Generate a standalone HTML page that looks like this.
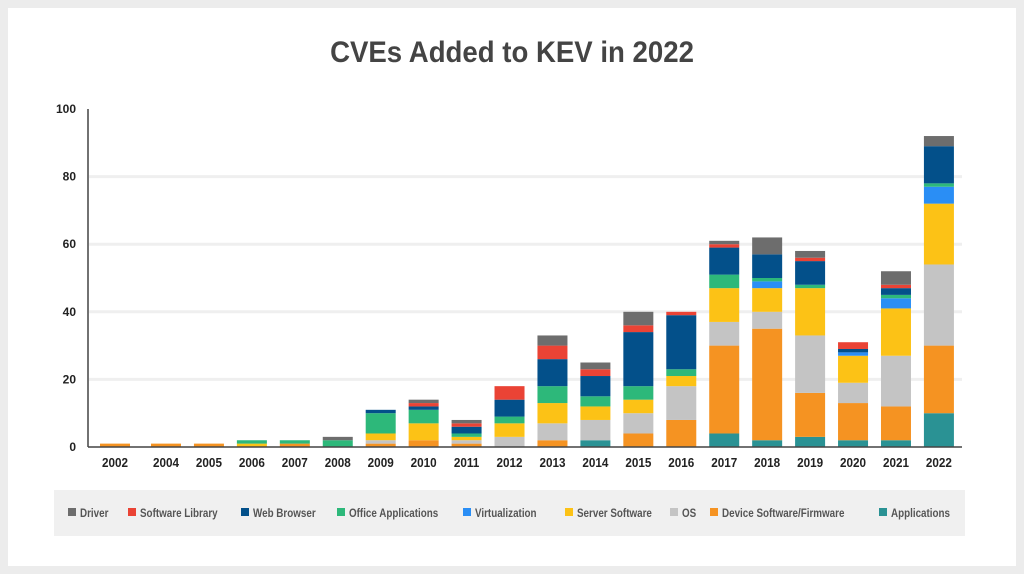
<!DOCTYPE html>
<html><head><meta charset="utf-8"><style>
body{margin:0;background:#ececec;}
#card{position:absolute;left:8px;top:8px;width:1008px;height:558px;background:#fff;}
svg{position:absolute;left:0;top:0;}
text{font-family:"Liberation Sans",sans-serif;font-weight:bold;}
</style></head><body>
<div id="card"></div>
<svg id="chart" width="1024" height="574">
<text x="512" y="62" text-anchor="middle" font-size="30" fill="#444" transform="translate(512,0) scale(0.92,1) translate(-512,0)">CVEs Added to KEV in 2022</text>
<rect x="54" y="490" width="911" height="46" fill="#f0f0f0"/>
</svg>
<script>
const categories=["2002","2004","2005","2006","2007","2008","2009","2010","2011","2012","2013","2014","2015","2016","2017","2018","2019","2020","2021","2022"];
const seriesNames=["Applications","Device Software/Firmware","OS","Server Software","Virtualization","Office Applications","Web Browser","Software Library","Driver"];
const colors=["#2a9294","#f59322","#c4c4c4","#fcc216","#2a8ef5","#2db87a","#03508a","#ea4335","#6d6d6d"];
const applications=[0,0,0,0,0,0,0,0,0,0,0,2,0,0,4,2,3,2,2,10];
const device=[1,1,1,0,1,0,1,2,1,0,2,0,4,8,26,33,13,11,10,20];
const os=[0,0,0,0,0,0,1,0,1,3,5,6,6,10,7,5,17,6,15,24];
const server=[0,0,0,1,0,0,2,5,1,4,6,4,4,3,10,7,14,8,14,18];
const virtualization=[0,0,0,0,0,0,0,0,0,0,0,0,0,0,0,2,0,1,3,5];
const office=[0,0,0,1,1,2,6,4,1,2,5,3,4,2,4,1,1,0,1,1];
const web=[0,0,0,0,0,0,1,1,2,5,8,6,16,16,8,7,7,1,2,11];
const library=[0,0,0,0,0,0,0,1,1,4,4,2,2,1,1,0,1,2,1,0];
const driver=[0,0,0,0,0,1,0,1,1,0,3,2,4,0,1,5,2,0,4,3];
const yTicks=[0,20,40,60,80,100];
const series=[applications,device,os,server,virtualization,office,web,library,driver];
const svg=document.getElementById('chart');
const NS='http://www.w3.org/2000/svg';
const y0=447,y1=109,yMax=100;
function yScale(v){return y0-(v/yMax)*(y0-y1);}
function xScale(i){return i===0?115:166+(i-1)*42.94;}
function mk(tag,attrs){const e=document.createElementNS(NS,tag);for(const k in attrs)e.setAttribute(k,attrs[k]);svg.appendChild(e);return e;}
yTicks.forEach(t=>{
  if(t>0&&t<100){const g=mk('line',{x1:89,x2:962,y1:yScale(t),y2:yScale(t),stroke:'#efefef','stroke-width':3});
  
  }
  const l=mk('text',{x:76,y:yScale(t)+4,'text-anchor':'end','font-size':12,fill:'#222'});
  l.textContent=t;
  
  
});
categories.forEach((c,i)=>{
  let acc=0;const cx=xScale(i);
  series.forEach((s,k)=>{
    const v=s[i];if(!v)return;
    const r=mk('rect',{x:cx-15,y:yScale(acc+v),width:30,height:yScale(acc)-yScale(acc+v),fill:colors[k]});
    
    
    acc+=v;
  });
  const t=mk('text',{x:cx,y:467,'text-anchor':'middle','font-size':13,fill:'#222',transform:'translate('+cx+',0) scale(0.9,1) translate('+(-cx)+',0)'});
  t.textContent=c;
  
  
});
const ax=mk('line',{x1:88,x2:962,y1:447,y2:447,stroke:'#444','stroke-width':1.5});


const ay=mk('line',{x1:88,x2:88,y1:109,y2:447,stroke:'#444','stroke-width':1.5});


const legendOrder=[8,7,6,5,4,3,2,1,0];
const legendX=[68,128,241,337,463,565,670,710,879];
legendOrder.forEach((k,j)=>{
  const m=mk('rect',{x:legendX[j],y:508,width:8,height:8,fill:colors[k]});
  
  
  const tx=legendX[j]+12;
  const t=mk('text',{x:tx,y:517,'font-size':12,fill:'#555',transform:'translate('+tx+',0) scale(0.82,1) translate('+(-tx)+',0)'});
  t.textContent=seriesNames[k];
  
  
});
</script>
</body></html>
